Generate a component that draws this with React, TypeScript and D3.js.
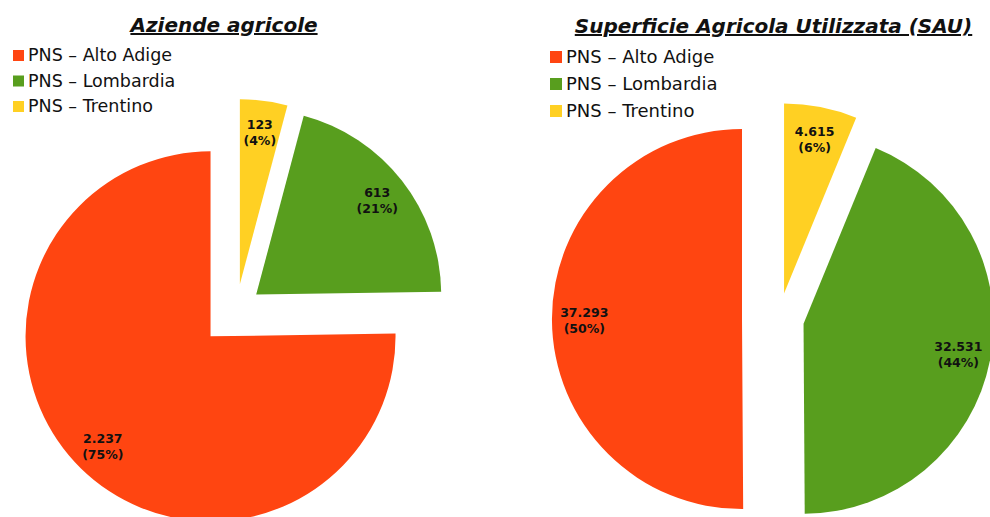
import React, { useEffect, useRef } from "react";
import * as d3 from "d3";

const categories = ["PNS – Alto Adige", "PNS – Lombardia", "PNS – Trentino"];
const aziendeValues = [2237, 613, 123];
const sauValues = [37293, 32531, 4615];
const titles = ["Aziende agricole", "Superficie Agricola Utilizzata (SAU)"];

const colors = ["#FF4511", "#589E1E", "#FFD023"];
// explosion distance of each slice (Excel style point explosion)
const explode = [37, 25, 26];
// slices go clockwise from 12 o'clock: Trentino, Lombardia, Alto Adige
const pieOrder = [2, 1, 0];

const width = 990;
const height = 517;

const itNum = d3
  .formatLocale({ decimal: ",", thousands: ".", grouping: [3], currency: ["€", ""] })
  .format(",d");

function drawPie(g, o) {
  const total = d3.sum(o.values);
  const pie = d3
    .pie()
    .sort(null)
    .value((i) => o.values[i]);
  const arcs = pie(pieOrder);
  const arc = d3.arc().innerRadius(0).outerRadius(o.r);
  const labelArc = d3
    .arc()
    .innerRadius(o.r * 0.83)
    .outerRadius(o.r * 0.83);

  const slices = g
    .selectAll(".slice")
    .data(arcs)
    .join("g")
    .attr("class", "slice")
    .attr("transform", (d) => {
      const e = explode[d.data];
      const [dx, dy] = d3.arc().innerRadius(e).outerRadius(e).centroid(d);
      return `translate(${o.cx + dx},${o.cy + dy})`;
    });

  slices
    .append("path")
    .attr("d", arc)
    .attr("fill", (d) => colors[d.data]);

  const lab = slices
    .append("text")
    .attr("transform", (d) => `translate(${labelArc.centroid(d)})`)
    .attr("text-anchor", "middle")
    .style("font-family", "'DejaVu Sans', Verdana, sans-serif")
    .style("font-weight", "bold")
    .style("font-size", "12.5px")
    .attr("fill", "#111");
  lab
    .append("tspan")
    .attr("x", 0)
    .attr("y", -3)
    .text((d) => itNum(o.values[d.data]));
  lab
    .append("tspan")
    .attr("x", 0)
    .attr("y", 13)
    .text((d) => `(${d3.format(".0%")(o.values[d.data] / total)})`);

  // title
  g.append("text")
    .attr("x", o.titleX)
    .attr("y", o.titleY)
    .attr("text-anchor", "middle")
    .attr("text-decoration", "underline")
    .style("font-family", "'DejaVu Sans', Verdana, sans-serif")
    .style("font-weight", "bold")
    .style("font-style", "italic")
    .style("font-size", "20px")
    .attr("fill", "#111")
    .text(o.title);

  // legend
  const leg = g
    .selectAll(".leg")
    .data(categories)
    .join("g")
    .attr("class", "leg")
    .attr("transform", (d, i) => `translate(${o.legendX},${o.legendY + i * o.legendStep})`);
  leg
    .append("rect")
    .attr("x", 0)
    .attr("y", -o.square)
    .attr("width", o.square)
    .attr("height", o.square)
    .attr("fill", (d, i) => colors[i]);
  leg
    .append("text")
    .attr("x", o.square + 4)
    .attr("y", 0)
    .style("font-family", "'DejaVu Sans', Verdana, sans-serif")
    .style("font-size", `${o.legendFont}px`)
    .attr("fill", "#111")
    .text((d) => d);
}

export default function App() {
  const ref = useRef(null);

  useEffect(() => {
    const svg = d3.select(ref.current);
    svg.selectAll("*").remove();

    drawPie(svg.append("g"), {
      values: aziendeValues,
      title: titles[0],
      cx: 236.5,
      cy: 310,
      r: 185,
      titleX: 224,
      titleY: 32,
      legendX: 13,
      legendY: 61,
      legendStep: 25.5,
      legendFont: 17.5,
      square: 11,
    });

    drawPie(svg.append("g"), {
      values: sauValues,
      title: titles[1],
      cx: 779,
      cy: 319,
      r: 190,
      titleX: 773.5,
      titleY: 33,
      legendX: 550,
      legendY: 63,
      legendStep: 27,
      legendFont: 18,
      square: 12,
    });
  }, []);

  return (
    <svg
      ref={ref}
      width={width}
      height={height}
      style={{ position: "absolute", left: 0, top: 0, background: "#fff" }}
    />
  );
}
